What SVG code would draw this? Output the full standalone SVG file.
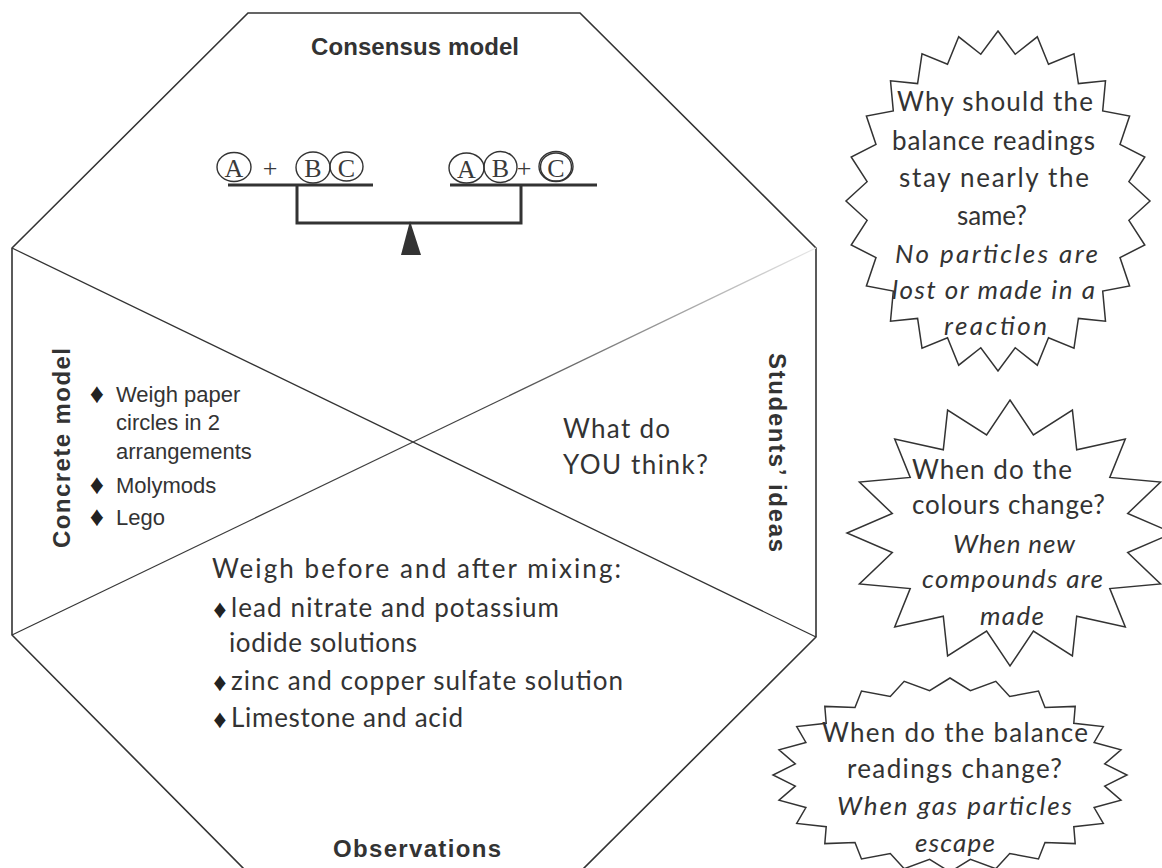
<svg xmlns="http://www.w3.org/2000/svg" width="1162" height="868" viewBox="0 0 1162 868">
  <defs>
    <!-- the rising divider fades out towards the upper right corner -->
    <linearGradient id="fade" gradientUnits="userSpaceOnUse" x1="12" y1="635" x2="816" y2="248">
      <stop offset="0" stop-color="#333"/>
      <stop offset="0.6" stop-color="#444"/>
      <stop offset="1" stop-color="#e8e8e8"/>
    </linearGradient>
    <style>
      .frame{fill:none;stroke:#333;stroke-width:1.6}
      .div{fill:none;stroke:#333;stroke-width:1.3}
      .beam{fill:none;stroke:#333;stroke-width:3}
      .atom{fill:none;stroke:#333;stroke-width:1.4}
      .serif{font-family:"Liberation Serif","Times New Roman",serif;font-size:26px;fill:#3a3a3a;text-anchor:middle}
      .title{font-family:"Liberation Sans",Arial,sans-serif;font-weight:bold;font-size:24px;fill:#333}
      .body{font-family:Lato,"Open Sans",sans-serif;font-size:26px;fill:#333}
      .it{font-style:italic}
      .list{font-family:"Liberation Sans",Arial,sans-serif;font-size:22px;fill:#333}
      .bullet{font-family:"Liberation Sans","DejaVu Sans",sans-serif;fill:#222;text-anchor:middle}
      .star{fill:#fff;stroke:#333;stroke-width:1.5;stroke-linejoin:miter}
    </style>
  </defs>

  <rect width="1162" height="868" fill="#fff"/>

  <!-- octagon outline (bottom edge runs just below the page) -->
  <g id="frame">
    <polygon class="frame" points="248,13 580,13 816,248 816,637 580,872 247,872 12,635 12,248"/>
  </g>

  <!-- the two diagonals that split the octagon into four sections -->
  <g id="connectors">
    <line class="div" x1="12" y1="248" x2="816" y2="637"/>
    <line x1="12" y1="635" x2="816" y2="248" stroke="url(#fade)" stroke-width="1.2"/>
  </g>

  <!-- top section: balance with particles -->
  <g id="consensus-model">
    <text class="title" x="311" y="55" textLength="208" lengthAdjust="spacing">Consensus model</text>
    <path class="beam" d="M228,185 H373 M450,185 H597 M297,185 V223 H521 V185"/>
    <polygon points="410,221 401,255 421,255" fill="#333"/>
    <ellipse class="atom" cx="234" cy="167" rx="17" ry="14.5"/>
    <ellipse class="atom" cx="313" cy="167.5" rx="17" ry="15.5"/>
    <ellipse class="atom" cx="346.5" cy="166.5" rx="16.5" ry="14.5"/>
    <ellipse class="atom" cx="466.5" cy="168" rx="17.5" ry="15"/>
    <ellipse class="atom" cx="500.5" cy="167" rx="16.5" ry="15.5"/>
    <ellipse class="atom" cx="556" cy="166.5" rx="17" ry="15"/>
    <ellipse class="atom" cx="556" cy="167" rx="15.5" ry="14"/>
    <text class="serif" x="234" y="177">A</text>
    <text class="serif" x="270" y="177" font-size="22">+</text>
    <text class="serif" x="313" y="177">B</text>
    <text class="serif" x="346.5" y="177">C</text>
    <text class="serif" x="466.5" y="178">A</text>
    <text class="serif" x="500.5" y="177">B</text>
    <text class="serif" x="524" y="177" font-size="22">+</text>
    <text class="serif" x="556" y="177">C</text>
  </g>

  <!-- left section -->
  <g id="concrete-model">
    <text class="title" transform="translate(70,548) rotate(-90)" textLength="200" lengthAdjust="spacing">Concrete model</text>
    <text class="bullet" x="97" y="403" font-size="28">♦</text>
    <text class="list" x="116" y="402">Weigh paper</text>
    <text class="list" x="116" y="430">circles in 2</text>
    <text class="list" x="116" y="459">arrangements</text>
    <text class="bullet" x="97" y="494" font-size="28">♦</text>
    <text class="list" x="116" y="493">Molymods</text>
    <text class="bullet" x="97" y="526" font-size="28">♦</text>
    <text class="list" x="116" y="525">Lego</text>
  </g>

  <!-- right section -->
  <g id="students-ideas">
    <text class="title" transform="translate(769,353) rotate(90)" textLength="199" lengthAdjust="spacing">Students’ ideas</text>
    <text class="body" x="563" y="438" textLength="107" lengthAdjust="spacing">What do</text>
    <text class="body" x="563" y="474" textLength="145" lengthAdjust="spacing">YOU think?</text>
  </g>

  <!-- bottom section -->
  <g id="observations">
    <text class="body" x="212" y="578" textLength="409" lengthAdjust="spacing">Weigh before and after mixing:</text>
    <text class="bullet" x="220" y="618" font-size="26">♦</text>
    <text class="body" x="231" y="617" textLength="328" lengthAdjust="spacing">lead nitrate and potassium</text>
    <text class="body" x="229" y="652" textLength="188" lengthAdjust="spacing">iodide solutions</text>
    <text class="bullet" x="220" y="691" font-size="26">♦</text>
    <text class="body" x="231" y="690" textLength="392" lengthAdjust="spacing">zinc and copper sulfate solution</text>
    <text class="bullet" x="220" y="728" font-size="26">♦</text>
    <text class="body" x="231" y="727" textLength="232" lengthAdjust="spacing">Limestone and acid</text>
    <text class="title" x="333" y="857" textLength="168" lengthAdjust="spacing">Observations</text>
  </g>

  <!-- question bursts -->
  <g id="star-why">
    <polygon class="star" points="998,31 1015.2,54.3 1037.3,36.8 1048.5,64.3 1074,53.8 1078.4,83.6 1105.5,80.8 1102.7,110.9 1129.6,116 1120,144.4 1144.8,157 1128.9,181.7 1150,201 1128.9,220.3 1144.8,245 1120,257.6 1129.6,286 1102.7,291.1 1105.5,321.2 1078.4,318.4 1074,348.2 1048.5,337.7 1037.3,365.2 1015.2,347.7 998,371 980.8,347.7 958.7,365.2 947.5,337.7 922,348.2 917.6,318.4 890.5,321.2 893.3,291.1 866.4,286 876,257.6 851.2,245 867.1,220.3 846,201 867.1,181.7 851.2,157 876,144.4 866.4,116 893.3,110.9 890.5,80.8 917.6,83.6 922,53.8 947.5,64.3 958.7,36.8 980.8,54.3"/>
    <text class="body" x="897" y="111" textLength="196" lengthAdjust="spacing">Why should the</text>
    <text class="body" x="892" y="150" textLength="203" lengthAdjust="spacing">balance readings</text>
    <text class="body" x="899" y="187" textLength="190" lengthAdjust="spacing">stay nearly the</text>
    <text class="body" x="957" y="225" textLength="70" lengthAdjust="spacing">same?</text>
    <text class="body it" x="895" y="263" textLength="203" lengthAdjust="spacing">No particles are</text>
    <text class="body it" x="892" y="299" textLength="203" lengthAdjust="spacing">lost or made in a</text>
    <text class="body it" x="944" y="335" textLength="103" lengthAdjust="spacing">reaction</text>
  </g>

  <g id="star-colours">
    <polygon class="star" points="1010,400 1033.4,434.9 1072.4,410.1 1076.7,449.8 1125.3,439 1109.8,477.4 1160.6,482.1 1127.7,513.5 1173,533 1127.7,552.5 1160.6,583.9 1109.8,588.6 1125.3,627 1076.7,616.2 1072.4,655.9 1033.4,631.1 1010,666 986.6,631.1 947.6,655.9 943.3,616.2 894.7,627 910.2,588.6 859.4,583.9 892.3,552.5 847,533 892.3,513.5 859.4,482.1 910.2,477.4 894.7,439 943.3,449.8 947.6,410.1 986.6,434.9"/>
    <text class="body" x="912" y="479" textLength="160" lengthAdjust="spacing">When do the</text>
    <text class="body" x="912" y="514" textLength="193" lengthAdjust="spacing">colours change?</text>
    <text class="body it" x="953" y="553" textLength="122" lengthAdjust="spacing">When new</text>
    <text class="body it" x="922" y="588" textLength="181" lengthAdjust="spacing">compounds are</text>
    <text class="body it" x="980" y="625" textLength="64" lengthAdjust="spacing">made</text>
  </g>

  <g id="star-balance">
    <polygon class="star" points="950,678 970.4,690.7 995.8,681.3 1009.7,696.5 1038.5,691 1045,707.6 1075.2,706.4 1073.8,723.3 1103.3,726.5 1094.1,742.5 1121,749.9 1104.7,763.9 1127,775 1104.7,786.1 1121,800.1 1094.1,807.5 1103.3,823.5 1073.8,826.7 1075.2,843.6 1045,842.4 1038.5,859 1009.7,853.5 995.8,868.7 970.4,859.3 950,872 929.6,859.3 904.2,868.7 890.3,853.5 861.5,859 855,842.4 824.8,843.6 826.2,826.7 796.7,823.5 805.9,807.5 779,800.1 795.3,786.1 773,775 795.3,763.9 779,749.9 805.9,742.5 796.7,726.5 826.2,723.3 824.8,706.4 855,707.6 861.5,691 890.3,696.5 904.2,681.3 929.6,690.7"/>
    <text class="body" x="822" y="742" textLength="266" lengthAdjust="spacing">When do the  balance</text>
    <text class="body" x="847" y="778" textLength="215" lengthAdjust="spacing">readings change?</text>
    <text class="body it" x="837" y="815" textLength="235" lengthAdjust="spacing">When gas particles</text>
    <text class="body it" x="915" y="852" textLength="80" lengthAdjust="spacing">escape</text>
  </g>
</svg>
